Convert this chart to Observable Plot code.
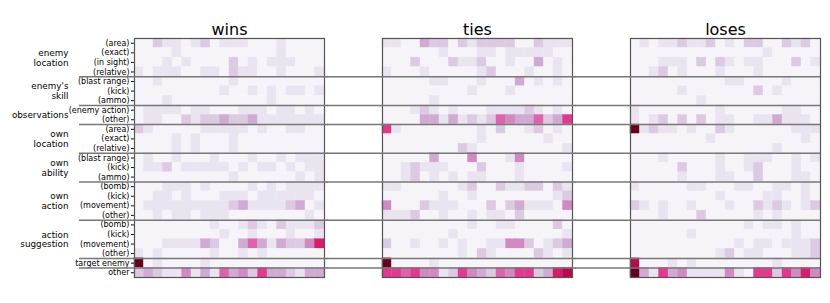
<!DOCTYPE html>
<html><head><meta charset="utf-8">
<script src="https://cdn.jsdelivr.net/npm/d3@7"></script>
<script src="https://cdn.jsdelivr.net/npm/@observablehq/plot@0.6"></script>
<style>body{margin:0;background:#fff}</style>
</head><body><div id="chart"></div>
<script>
const panels = ["wins", "ties", "loses"];
const rowLabels = ["(area)","(exact)","(in sight)","(relative)","(blast range)","(kick)","(ammo)","(enemy action)","(other)","(area)","(exact)","(relative)","(blast range)","(kick)","(ammo)","(bomb)","(kick)","(movement)","(other)","(bomb)","(kick)","(movement)","(other)","target enemy","other"];
const groupNames = ["enemy\nlocation","enemy's\nskill","observations","own\nlocation","own\nability","own\naction","action\nsuggestion"];
const groupStarts = [0,4,7,9,12,15,19];
const groupEnds = [4,7,9,12,15,19,23];
const separators = [4,7,9,12,15,19,23,24];

const wins = [
[0,0,2,1,1,0,1,2,0,1,1,1,0,0,0,1,0,0,0,0],
[0,0,0,0,1,0,0,0,0,0,0,0,0,0,0,1,0,0,0,0],
[0,0,0,1,0,1,0,0,0,0,2,0,1,0,1,1,1,0,0,0],
[1,0,1,1,1,0,0,1,1,0,2,1,1,0,0,1,0,0,0,1],
[0,0,1,0,0,0,0,0,0,0,1,0,0,0,0,0,0,0,0,0],
[0,0,0,0,0,0,0,0,0,1,0,0,1,0,1,0,1,1,0,1],
[0,0,0,1,0,0,0,0,0,0,0,0,0,0,1,0,0,0,0,0],
[0,1,1,1,1,0,1,1,0,0,0,1,1,1,0,1,1,0,1,0],
[0,1,1,0,0,2,1,2,2,3,2,2,3,1,1,1,1,1,1,1],
[2,1,0,0,0,0,0,1,1,1,1,1,0,1,0,0,1,1,0,0],
[0,0,0,0,1,0,1,0,0,0,1,0,0,0,0,0,0,0,0,0],
[0,0,0,0,1,0,1,0,0,0,1,0,0,0,0,0,0,0,0,0],
[0,1,0,0,1,0,0,0,1,0,0,0,1,0,0,1,0,1,1,1],
[0,1,1,2,0,1,1,1,1,1,0,1,0,1,1,0,1,0,1,1],
[0,0,0,0,0,0,0,0,0,0,1,0,0,0,0,0,0,1,0,1],
[0,0,0,1,1,1,0,1,0,0,0,0,1,0,1,0,1,1,1,1],
[0,0,1,1,0,1,0,0,0,1,1,1,0,1,1,1,1,1,1,0],
[0,1,1,1,1,1,1,1,1,1,2,3,1,1,1,1,2,3,0,1],
[0,0,1,0,1,1,0,1,1,1,0,0,0,0,0,0,0,0,1,0],
[0,0,0,0,0,0,0,0,1,0,0,1,2,1,0,2,1,1,1,2],
[0,0,0,0,0,0,0,0,0,1,0,0,1,0,0,0,1,0,0,1],
[0,0,0,1,1,1,1,3,2,0,0,3,5,3,1,3,2,2,4,7],
[1,0,1,0,0,0,0,0,1,0,0,1,0,1,0,0,0,0,0,0],
[10,0,1,0,0,0,0,1,0,0,0,0,0,0,0,0,0,0,0,0],
[2,3,2,1,1,4,1,3,1,5,3,4,2,6,3,3,2,1,3,3]
];
const ties = [
[1,1,0,0,3,2,2,0,2,1,2,2,2,2,0,0,2,1,1,1],
[0,0,0,0,0,0,1,0,0,0,1,1,0,1,1,1,1,1,0,0],
[0,0,0,2,0,0,0,2,1,1,2,0,0,1,0,0,3,0,1,0],
[1,0,0,0,1,0,0,0,0,0,1,2,0,0,0,1,0,0,1,0],
[0,0,0,0,0,1,1,0,0,0,1,0,0,0,3,0,1,0,1,0],
[0,0,0,0,0,0,0,0,0,1,0,0,0,1,0,0,0,0,0,0],
[0,0,0,0,0,1,0,0,0,0,0,0,0,0,0,0,0,0,0,0],
[0,0,0,1,2,1,0,1,0,0,0,1,1,1,1,2,1,0,1,0],
[0,0,0,0,3,3,1,3,1,2,1,2,5,4,3,3,5,2,3,6],
[6,1,0,0,0,0,0,0,0,0,1,0,2,0,0,1,2,0,1,0],
[0,0,0,0,0,0,0,0,0,0,1,0,0,0,0,0,0,1,0,0],
[0,0,0,0,0,0,0,0,2,1,0,0,0,0,0,0,0,0,0,1],
[0,0,0,0,0,3,0,0,0,4,0,0,0,1,4,0,0,0,0,0],
[0,0,1,2,1,1,1,0,0,0,2,0,0,0,1,0,0,0,0,1],
[0,0,1,2,0,1,0,1,0,1,1,0,0,0,1,0,0,0,0,0],
[1,1,0,0,0,0,0,0,1,2,0,0,2,1,1,2,2,0,2,1],
[0,0,0,0,0,0,1,0,0,1,0,0,0,0,0,0,0,0,1,2],
[4,0,0,0,2,1,1,1,0,0,0,2,0,2,3,1,1,1,0,4],
[1,1,1,2,0,0,1,0,0,1,0,1,1,0,2,0,0,0,0,0],
[0,0,0,0,0,0,0,0,0,1,0,0,1,1,0,0,0,0,2,0],
[0,0,0,0,0,0,0,1,0,0,0,0,0,0,0,0,0,0,0,1],
[2,0,0,1,0,0,1,0,1,0,0,1,1,4,4,2,0,1,2,3],
[0,0,0,0,0,0,0,0,1,0,2,1,0,0,0,0,2,1,0,1],
[10,0,0,0,0,1,0,0,0,0,0,0,0,0,0,0,0,0,0,0],
[6,6,5,6,4,4,1,2,6,4,3,2,5,4,6,6,2,3,7,8]
];
const loses = [
[0,1,0,1,1,2,1,1,2,0,1,0,2,2,0,0,2,1,2,0],
[0,0,0,0,0,0,0,0,0,0,0,0,0,0,1,0,0,0,0,0],
[0,0,0,1,1,1,0,2,0,2,1,0,1,1,0,0,0,2,0,1],
[0,0,1,2,0,1,0,0,0,1,0,0,0,1,0,0,0,0,0,0],
[0,0,0,0,0,0,0,0,0,0,1,1,0,0,0,0,1,0,0,0],
[0,0,0,0,0,1,0,0,0,0,0,0,0,2,0,1,0,0,0,0],
[0,0,0,0,0,0,0,1,0,0,0,0,0,0,0,0,0,0,0,0],
[1,0,0,0,0,0,0,0,0,1,0,0,0,0,0,0,1,1,0,0],
[1,0,1,2,0,2,0,2,0,1,1,0,0,1,1,3,1,1,1,0],
[10,1,2,1,1,0,1,0,0,2,1,0,0,0,0,0,0,1,1,1],
[0,0,0,0,0,0,0,0,1,0,0,0,0,0,0,0,0,0,1,0],
[0,0,0,0,0,0,0,0,0,0,0,0,0,0,0,1,0,0,0,0],
[0,0,0,1,0,0,0,0,0,1,0,0,1,1,1,0,0,1,0,1],
[0,0,0,0,0,2,0,0,0,1,0,0,1,2,0,0,0,1,0,0],
[0,0,0,0,0,1,0,0,0,1,1,0,0,2,0,0,0,1,1,0],
[1,0,0,0,0,0,1,1,0,0,0,1,1,0,0,1,1,0,1,0],
[0,0,0,0,0,0,0,0,0,1,0,0,0,0,1,1,0,0,1,0],
[2,1,0,1,0,0,1,0,0,0,1,0,0,2,1,2,1,0,1,2],
[0,0,0,1,0,0,0,2,0,0,0,0,0,1,0,1,0,0,0,0],
[0,0,0,0,0,0,0,0,0,0,0,0,1,0,1,1,0,1,0,0],
[0,0,0,0,0,0,1,0,0,0,0,0,0,0,0,0,0,1,0,0],
[0,0,0,0,0,0,0,0,0,0,0,1,0,1,1,0,1,1,1,2],
[0,0,0,0,0,0,0,0,0,1,2,0,1,1,0,0,0,1,1,2],
[8,0,0,0,1,0,1,0,0,0,0,0,0,0,0,1,0,0,0,0],
[10,3,1,6,3,4,1,1,1,1,4,1,0,6,6,2,6,4,7,4]
];

const cells = [];
[wins, ties, loses].forEach((m, p) => m.forEach((row, r) => row.forEach((v, c) => cells.push({panel: panels[p], row: r, col: c, v}))));
const groups = groupNames.map((name, i) => ({name, y: (groupStarts[i] + groupEnds[i]) / 2}));
const seps = separators.flatMap(y => panels.map(panel => ({y, panel})));

const chart = Plot.plot({
  width: 830, height: 303,
  marginLeft: 133, marginRight: 9, marginTop: 38, marginBottom: 26,
  style: {fontFamily: "DejaVu Sans", fontSize: "8px", color: "#000", background: "#fff", overflow: "visible"},
  fx: {domain: panels, paddingInner: 0.235, paddingOuter: 0, axis: null},
  x: {domain: [0, 20], axis: null},
  y: {domain: [25, 0], ticks: d3.range(25).map(i => i + 0.5), tickFormat: t => rowLabels[Math.floor(t)], tickSize: 3, tickPadding: 2, label: null},
  color: {type: "linear", scheme: "purd", domain: [0, 10]},
  marks: [
    Plot.rect(cells, {fx: "panel", x1: "col", x2: d => d.col + 1, y1: "row", y2: d => d.row + 1, fill: "v", stroke: "v", strokeWidth: 0.4}),
    Plot.frame({stroke: "#555", strokeWidth: 1.2}),
    Plot.ruleY(seps.filter(d => d.panel !== "loses"), {fx: "panel", y: "y", stroke: "#777", strokeWidth: 1.5, insetLeft: -55, insetRight: -4}),
    Plot.ruleY(seps.filter(d => d.panel === "loses"), {fx: "panel", y: "y", stroke: "#777", strokeWidth: 1.5, insetLeft: -55}),
    Plot.text(panels, {fx: d => d, text: d => d, frameAnchor: "top", dy: -4, lineAnchor: "bottom", fontSize: 16}),
    Plot.text(groups, {fx: () => "wins", x: 0, y: "y", text: "name", dx: -66, textAnchor: "end", fontSize: 8.8, lineHeight: 1.1})
  ]
});
document.getElementById("chart").appendChild(chart);
</script>
</body></html>
